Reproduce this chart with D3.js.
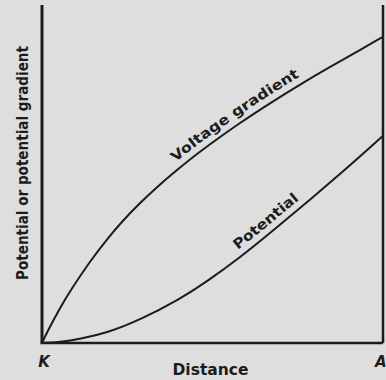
<!DOCTYPE html>
<html>
<head>
<meta charset="utf-8">
<script src="https://cdn.jsdelivr.net/npm/d3@7"></script>
<style>
  html, body { margin: 0; padding: 0; background: #dedede; }
  svg { display: block; }
  text { font-family: "DejaVu Sans", sans-serif; font-weight: bold; fill: #1c1c1c; }
</style>
</head>
<body>
<svg id="chart" width="386" height="380"></svg>
<script>
// Distance from cathode K (0) to anode A (10), arbitrary units
const distance = [0, 0.14, 0.53, 0.91, 1.41, 1.91, 2.38, 2.87, 3.37, 3.84, 4.34, 4.84, 5.81, 6.77, 7.57, 8.45, 9.33, 10];
// Voltage gradient along the tube
const gradientValues = [0, 0.30, 1.05, 1.67, 2.42, 3.08, 3.63, 4.14, 4.61, 5.02, 5.43, 5.82, 6.52, 7.15, 7.65, 8.17, 8.67, 9.06];

// Potential along the tube
const potentialDistance = [0, 0.53, 1.11, 1.91, 2.87, 4.05, 4.84, 5.81, 6.77, 7.86, 9.03, 10];
const potentialValues = [0, 0.03, 0.12, 0.30, 0.68, 1.30, 1.82, 2.53, 3.32, 4.24, 5.25, 6.13];

const endLabels = ["K", "A"];
const xTitle = "Distance";
const yTitle = "Potential or potential gradient";

const svg = d3.select("#chart");
const margin = { left: 42, right: 3, top: 5, bottom: 37 };
const W = 386, H = 380;

const x = d3.scaleLinear().domain([0, 10]).range([margin.left, W - margin.right]);
const y = d3.scaleLinear().domain([0, 10]).range([H - margin.bottom, margin.top]);

const ink = "#1c1c1c";

// frame: left axis, bottom axis, right edge
svg.append("line").attr("x1", x(0)).attr("x2", x(0)).attr("y1", y(10)).attr("y2", y(0))
  .attr("stroke", ink).attr("stroke-width", 3);
svg.append("line").attr("x1", x(0) - 1.5).attr("x2", x(10)).attr("y1", y(0)).attr("y2", y(0))
  .attr("stroke", ink).attr("stroke-width", 2.5);
svg.append("line").attr("x1", x(10)).attr("x2", x(10)).attr("y1", y(10)).attr("y2", y(0))
  .attr("stroke", ink).attr("stroke-width", 2.5);

// smooth B-spline through the sampled values
const line = d3.line().curve(d3.curveBasis);

const gradPts = distance.map((d, i) => [x(d), y(gradientValues[i])]);
const potPts = potentialDistance.map((d, i) => [x(d), y(potentialValues[i])]);

svg.append("path").attr("id", "gradCurve").attr("d", line(gradPts))
  .attr("fill", "none").attr("stroke", ink).attr("stroke-width", 2);
svg.append("path").attr("id", "potCurve").attr("d", line(potPts))
  .attr("fill", "none").attr("stroke", ink).attr("stroke-width", 2);

// curve labels along their paths, starting at a given x position
function pathLabel(id, text, startPx, len, size) {
  const node = document.getElementById(id);
  const total = node.getTotalLength();
  let lo = 0, hi = total;
  for (let k = 0; k < 40; k++) {
    const mid = (lo + hi) / 2;
    if (node.getPointAtLength(mid).x < startPx) lo = mid; else hi = mid;
  }
  svg.append("text").attr("dy", -7).style("font-size", size + "px")
    .append("textPath").attr("href", "#" + id)
    .attr("startOffset", lo).attr("textLength", len).attr("lengthAdjust", "spacingAndGlyphs")
    .text(text);
}
pathLabel("gradCurve", "Voltage gradient", 180, 150, 14);
pathLabel("potCurve", "Potential", 242, 80, 14);

// axis titles
svg.append("text").attr("x", x(5) - 2).attr("y", 375).attr("text-anchor", "middle")
  .style("font-size", "15px").attr("textLength", 76).attr("lengthAdjust", "spacingAndGlyphs")
  .text(xTitle);
svg.append("text").attr("transform", `translate(28,${163}) rotate(-90)`).attr("text-anchor", "middle")
  .style("font-size", "15px").attr("textLength", 234).attr("lengthAdjust", "spacingAndGlyphs")
  .text(yTitle);

// end markers
svg.append("text").attr("x", x(0) + 2).attr("y", 367).attr("text-anchor", "middle")
  .style("font-size", "15px").style("font-style", "italic").text(endLabels[0]);
svg.append("text").attr("x", 375).attr("y", 367).attr("text-anchor", "start")
  .style("font-size", "15px").style("font-style", "italic").text(endLabels[1]);
</script>
</body>
</html>
